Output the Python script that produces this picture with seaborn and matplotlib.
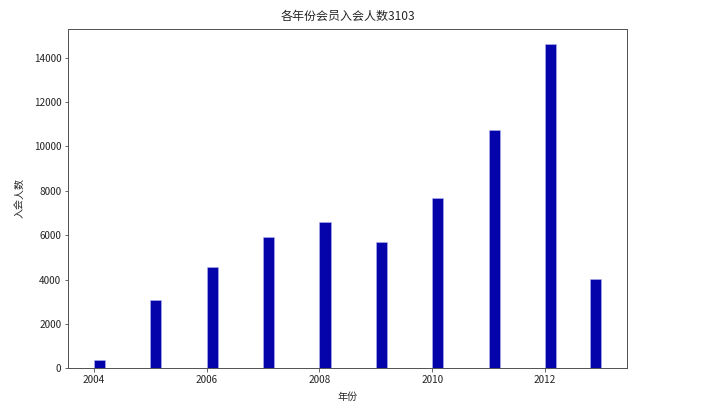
import seaborn as sns
import matplotlib.pyplot as plt

sns.set_style("ticks")
plt.rcParams['font.family'] = ['Noto Sans CJK SC', 'DejaVu Sans']
plt.rcParams['axes.unicode_minus'] = False

# members joining per year
years = [2004, 2005, 2006, 2007, 2008, 2009, 2010, 2011, 2012, 2013]
counts = [370, 3060, 4560, 5900, 6570, 5670, 7650, 10720, 14590, 4010]

fig = plt.figure(figsize=(714 / 72, 414 / 72), dpi=72)
ax = fig.add_axes([0.0957, 0.1104, 0.782, 0.8203])

# 45 bins over 2004-2013 gives the narrow bars starting at each year
sns.histplot(x=years, weights=counts, bins=45, binrange=(2004, 2013),
             color='#0504aa', alpha=1, edgecolor='#b8b8ee', linewidth=0.5, ax=ax)

ax.set_xlim(2003.55, 2013.45)
ax.set_ylim(0, 15300)
ax.set_xticks([2004, 2006, 2008, 2010, 2012])
ax.set_yticks(range(0, 14001, 2000))
ax.tick_params(labelsize=10, length=3.5, width=0.8, color='#444444')
for s in ax.spines.values():
    s.set_color('#555555')
    s.set_linewidth(1)

ax.set_title('各年份会员入会人数3103', fontsize=12, pad=9)
ax.set_xlabel('年份', fontsize=10, labelpad=7)
ax.set_ylabel('入会人数', fontsize=10, labelpad=9)

fig.savefig('out.png', dpi=72)
